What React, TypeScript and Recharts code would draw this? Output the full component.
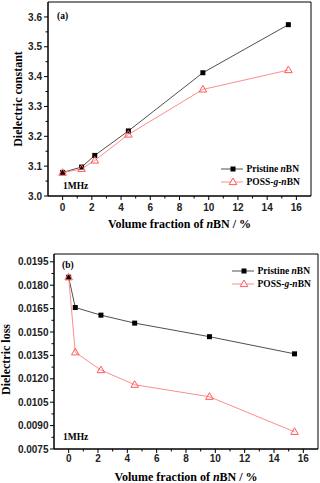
import React from 'react';
import { LineChart, Line, XAxis, YAxis, Legend, Label, ReferenceArea } from 'recharts';

// ---- data ----
const volumeConstant = [0, 1.3, 2.2, 4.5, 9.6, 15.45];
const pristineConstant = [3.079, 3.097, 3.136, 3.218, 3.413, 3.574];
const possConstant = [3.078, 3.091, 3.119, 3.206, 3.357, 3.422];

const volumeLoss = [0, 0.45, 2.2, 4.5, 9.6, 15.4];
const pristineLoss = [0.01851, 0.01657, 0.01608, 0.01557, 0.0147, 0.0136];
const possLoss = [0.01851, 0.0137, 0.01256, 0.01162, 0.01085, 0.0086];

const seriesKeys = ['pristine', 'poss'];
const xMajorTicks = [0, 2, 4, 6, 8, 10, 12, 14, 16];
const xMinorTicks = [1, 3, 5, 7, 9, 11, 13, 15];
const constantMajorTicks = [3.0, 3.1, 3.2, 3.3, 3.4, 3.5, 3.6];
const constantMinorTicks = [3.05, 3.15, 3.25, 3.35, 3.45, 3.55];
const lossMajorTicks = [0.0075, 0.009, 0.0105, 0.012, 0.0135, 0.015, 0.0165, 0.018, 0.0195];
const lossMinorTicks = [0.00825, 0.00975, 0.01125, 0.01275, 0.01425, 0.01575, 0.01725, 0.01875];

const constantRows = volumeConstant.map((x, i) => ({ x, pristine: pristineConstant[i], poss: possConstant[i] }));
const lossRows = volumeLoss.map((x, i) => ({ x, pristine: pristineLoss[i], poss: possLoss[i] }));

const SANS = '"Liberation Sans", Arial, sans-serif';
const SERIF = '"Liberation Serif", "Times New Roman", serif';
const PRISTINE_LINE = '#505050';
const POSS_LINE = '#ff8c8c';
const POSS_MARK = '#ff5a5a';

const isIn = (arr: number[], v: number) => arr.some((m) => Math.abs(m - v) < 1e-9);

const makeXTick = (major: number[], labelDy: number) => (props: any) => {
  const { x, y, payload } = props;
  const maj = isIn(major, payload.value);
  return (
    <g>
      <line x1={x} x2={x} y1={y} y2={y + (maj ? 4 : 2.5)} stroke="#000" strokeWidth={1} />
      {maj && (
        <text x={x} y={y + labelDy} textAnchor="middle" fontFamily={SANS} fontWeight="bold" fontSize={10} fill="#222">
          {String(payload.value)}
        </text>
      )}
    </g>
  );
};

const makeYTick = (major: number[], digits: number, gap: number) => (props: any) => {
  const { x, y, payload } = props;
  const maj = isIn(major, payload.value);
  return (
    <g>
      <line x1={x} x2={x - (maj ? 4 : 2.5)} y1={y} y2={y} stroke="#000" strokeWidth={1} />
      {maj && (
        <text x={x - 4 - gap} y={y} dy="0.36em" textAnchor="end" fontFamily={SANS} fontWeight="bold" fontSize={10} fill="#222">
          {payload.value.toFixed(digits)}
        </text>
      )}
    </g>
  );
};

const xTitle = (props: any) => {
  const vb = props.viewBox;
  return (
    <text x={vb.x + vb.width / 2} y={vb.y + 32} textAnchor="middle" fontFamily={SERIF} fontWeight="bold" fontSize={12} fill="#000">
      Volume fraction of <tspan fontStyle="italic">n</tspan>BN / %
    </text>
  );
};

const makeYTitle = (text: string, bx: number, dyc: number) => (props: any) => {
  const vb = props.viewBox;
  const cy = vb.y + vb.height / 2 + dyc;
  return (
    <text x={bx} y={cy} transform={`rotate(-90 ${bx} ${cy})`} textAnchor="middle" fontFamily={SERIF} fontWeight="bold" fontSize={12} fill="#000">
      {text}
    </text>
  );
};

const squareDot = (props: any) => {
  const { cx, cy, index } = props;
  return <rect key={`sq-${index}`} x={cx - 2.5} y={cy - 2.5} width={5} height={5} fill="#000" />;
};
const triangleDot = (props: any) => {
  const { cx, cy, index } = props;
  return (
    <path key={`tr-${index}`} d={`M${cx},${cy - 4} L${cx + 3.8},${cy + 2.6} L${cx - 3.8},${cy + 2.6} Z`} fill="none" stroke={POSS_MARK} strokeWidth={1} />
  );
};

const richName = (key: string) =>
  key === 'pristine' ? (
    <>Pristine <i>n</i>BN</>
  ) : (
    <>POSS-<i>g</i>-<i>n</i>BN</>
  );

const LegendBox = (props: any) => {
  const payload = [...(props.payload || [])].sort(
    (a: any, b: any) => seriesKeys.indexOf(String(a.dataKey)) - seriesKeys.indexOf(String(b.dataKey))
  );
  return (
    <div style={{ fontFamily: SERIF, fontWeight: 'bold', fontSize: 9.5, color: '#000' }}>
      {payload.map((p: any) => (
        <div key={p.dataKey} style={{ display: 'flex', alignItems: 'center', height: 12.4, whiteSpace: 'nowrap' }}>
          <svg width={24} height={10} style={{ display: 'block' }}>
            {p.dataKey === 'pristine' ? (
              <>
                <line x1={0} x2={22} y1={5} y2={5} stroke={PRISTINE_LINE} />
                <rect x={9.5} y={2.5} width={5} height={5} fill="#000" />
              </>
            ) : (
              <>
                <line x1={0} x2={22} y1={5} y2={5} stroke={POSS_LINE} />
                <path d="M12,1 L15.8,7.6 L8.2,7.6 Z" fill="#fff" stroke={POSS_MARK} />
              </>
            )}
          </svg>
          <span style={{ marginLeft: 1.5 }}>{richName(p.dataKey)}</span>
        </div>
      ))}
    </div>
  );
};

const note = (left: number, top: number, text: string) => (
  <div
    style={{
      position: 'absolute', left, top, fontFamily: SERIF, fontWeight: 'bold', fontSize: 9.5,
      lineHeight: '12px', color: '#000', whiteSpace: 'nowrap',
    }}
  >
    {text}
  </div>
);

export default function App() {
  return (
    <div style={{ position: 'absolute', left: 0, top: 0, width: 320, height: 483, background: '#fff', overflow: 'hidden' }}>
      <div style={{ position: 'absolute', left: 0, top: 0 }}>
        <LineChart width={320} height={240} data={constantRows} margin={{ top: 2, right: 9, bottom: 0, left: 0 }}>
          <XAxis
            dataKey="x" type="number" domain={[-1, 17]} allowDataOverflow
            ticks={[...xMajorTicks, ...xMinorTicks]} interval={0} tickSize={0} tickMargin={0}
            tick={makeXTick(xMajorTicks, 14.5)} tickLine={false} height={44}
            axisLine={{ stroke: '#000' }}
          >
            <Label content={xTitle} />
          </XAxis>
          <YAxis
            type="number" domain={[3.0, 3.65]} allowDataOverflow
            ticks={[...constantMajorTicks, ...constantMinorTicks]} interval={0} tickSize={0} tickMargin={0}
            tick={makeYTick(constantMajorTicks, 1, 2)} tickLine={false} width={48}
            axisLine={{ stroke: '#000' }}
          >
            <Label content={makeYTitle('Dielectric constant', 22, 0)} />
          </YAxis>
          <ReferenceArea x1={-1} x2={17} y1={3.0} y2={3.65} fill="none" stroke="#000" strokeWidth={1} />
          <Legend
            layout="horizontal" verticalAlign="middle" align="center" content={LegendBox}
            wrapperStyle={{ left: 221, top: 163, width: 'auto', height: 'auto' }}
          />
          <Line dataKey={seriesKeys[0]} name="Pristine nBN" stroke={PRISTINE_LINE} strokeWidth={1} dot={squareDot} activeDot={false} isAnimationActive={false} />
          <Line dataKey={seriesKeys[1]} name="POSS-g-nBN" stroke={POSS_LINE} strokeWidth={1} dot={triangleDot} activeDot={false} isAnimationActive={false} />
        </LineChart>
        {note(57, 10, '(a)')}
        {note(63, 180, '1MHz')}
      </div>
      <div style={{ position: 'absolute', left: 0, top: 240 }}>
        <LineChart width={320} height={243} data={lossRows} margin={{ top: 14, right: 2, bottom: 0, left: 0 }}>
          <XAxis
            dataKey="x" type="number" domain={[-1, 17]} allowDataOverflow
            ticks={[...xMajorTicks, ...xMinorTicks]} interval={0} tickSize={0} tickMargin={0}
            tick={makeXTick(xMajorTicks, 13)} tickLine={false} height={34}
            axisLine={{ stroke: '#000' }}
          >
            <Label content={xTitle} />
          </XAxis>
          <YAxis
            type="number" domain={[0.0075, 0.02]} allowDataOverflow
            ticks={[...lossMajorTicks, ...lossMinorTicks]} interval={0} tickSize={0} tickMargin={0}
            tick={makeYTick(lossMajorTicks, 4, 1.5)} tickLine={false} width={54}
            axisLine={{ stroke: '#000' }}
          >
            <Label content={makeYTitle('Dielectric loss', 10, 8)} />
          </YAxis>
          <ReferenceArea x1={-1} x2={17} y1={0.0075} y2={0.02} fill="none" stroke="#000" strokeWidth={1} />
          <Legend
            layout="horizontal" verticalAlign="middle" align="center" content={LegendBox}
            wrapperStyle={{ left: 232, top: 25, width: 'auto', height: 'auto' }}
          />
          <Line dataKey={seriesKeys[0]} name="Pristine nBN" stroke={PRISTINE_LINE} strokeWidth={1} dot={squareDot} activeDot={false} isAnimationActive={false} />
          <Line dataKey={seriesKeys[1]} name="POSS-g-nBN" stroke={POSS_LINE} strokeWidth={1} dot={triangleDot} activeDot={false} isAnimationActive={false} />
        </LineChart>
        {note(62, 19, '(b)')}
        {note(63, 191, '1MHz')}
      </div>
    </div>
  );
}
